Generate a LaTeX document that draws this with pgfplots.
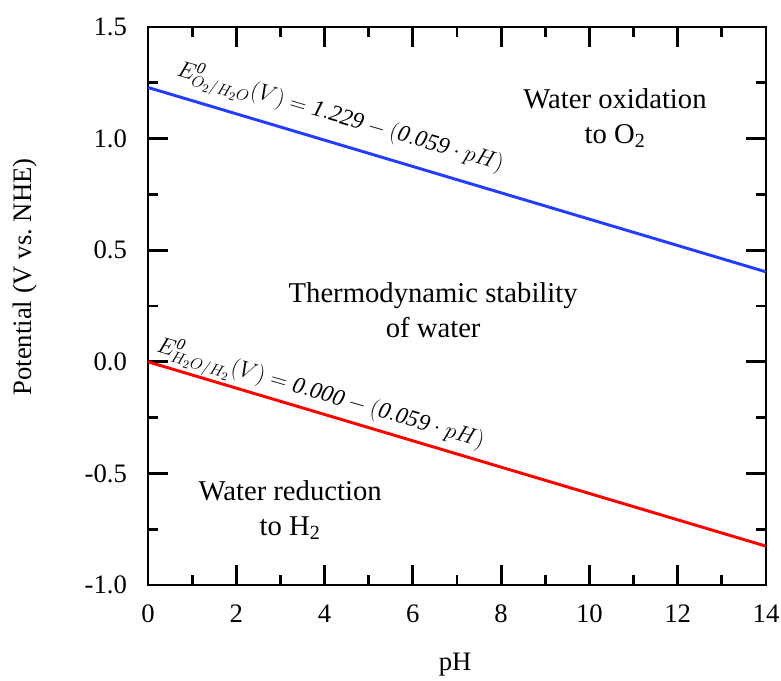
\documentclass[border=0pt]{standalone}
\usepackage{fontspec}
\setmainfont{Liberation Serif}
\usepackage{pgfplots}
\pgfplotsset{compat=1.18}
\definecolor{myblue}{RGB}{35,60,255}
\definecolor{myred}{RGB}{255,0,0}
\begin{document}
\fontsize{20}{24}\selectfont
\begin{tikzpicture}
\begin{axis}[
  at={(0,0)}, anchor=south west,
  width=463.5pt, height=418.5pt, scale only axis,
  xmin=0, xmax=14, ymin=-1, ymax=1.5,
  xtick={0,2,...,14}, ytick={-1,-0.5,0,0.5,1,1.5},
  minor x tick num=1, minor y tick num=1,
  tick align=inside, tick pos=both,
  major tick length=15pt, minor tick length=7.5pt,
  axis line style={line width=2.2pt},
  every tick/.style={line width=2.2pt, black},
  /pgf/number format/assume math mode=true,
  yticklabel style={/pgf/number format/fixed, /pgf/number format/fixed zerofill, /pgf/number format/precision=1, xshift=-9pt},
  xticklabel style={yshift=-8pt},
  xlabel={pH}, ylabel={Potential (V vs.\ NHE)},
  xlabel style={at={(axis description cs:0.497,0)}, anchor=center, yshift=-60pt},
  ylabel style={at={(axis description cs:0,0.552)}, anchor=center, yshift=92pt},
  clip=false,
]
\addplot[myblue, line width=2.2pt] coordinates {(0,1.229) (14,0.403)};
\addplot[myred, line width=2.2pt] coordinates {(0,0) (14,-0.826)};
\node[rotate=-16.4, font=\fontsize{17.5}{20}\selectfont] at (axis cs:4.35,1.09) {$E^{\mathit{0}}_{O_2/H_2O}(V) = \mathit{1.229} - (\mathit{0.059}\cdot pH)$};
\node[rotate=-16.4, font=\fontsize{17.5}{20}\selectfont] at (axis cs:3.9,-0.149) {$E^{\mathit{0}}_{H_2O/H_2}(V) = \mathit{0.000} - (\mathit{0.059}\cdot pH)$};
\begin{scope}[every node/.style={align=center, font=\fontsize{21.5}{26.5}\selectfont}]
\node at (axis cs:10.58,1.092) {Water oxidation\\to O\textsubscript{2}};
\node at (axis cs:6.46,0.232) {Thermodynamic stability\\of water};
\node at (axis cs:3.22,-0.664) {Water reduction\\to H\textsubscript{2}};
\end{scope}
\end{axis}
\pgfresetboundingbox
\path (-111pt,-72pt) rectangle (474.75pt,438.75pt);
\end{tikzpicture}
\end{document}
